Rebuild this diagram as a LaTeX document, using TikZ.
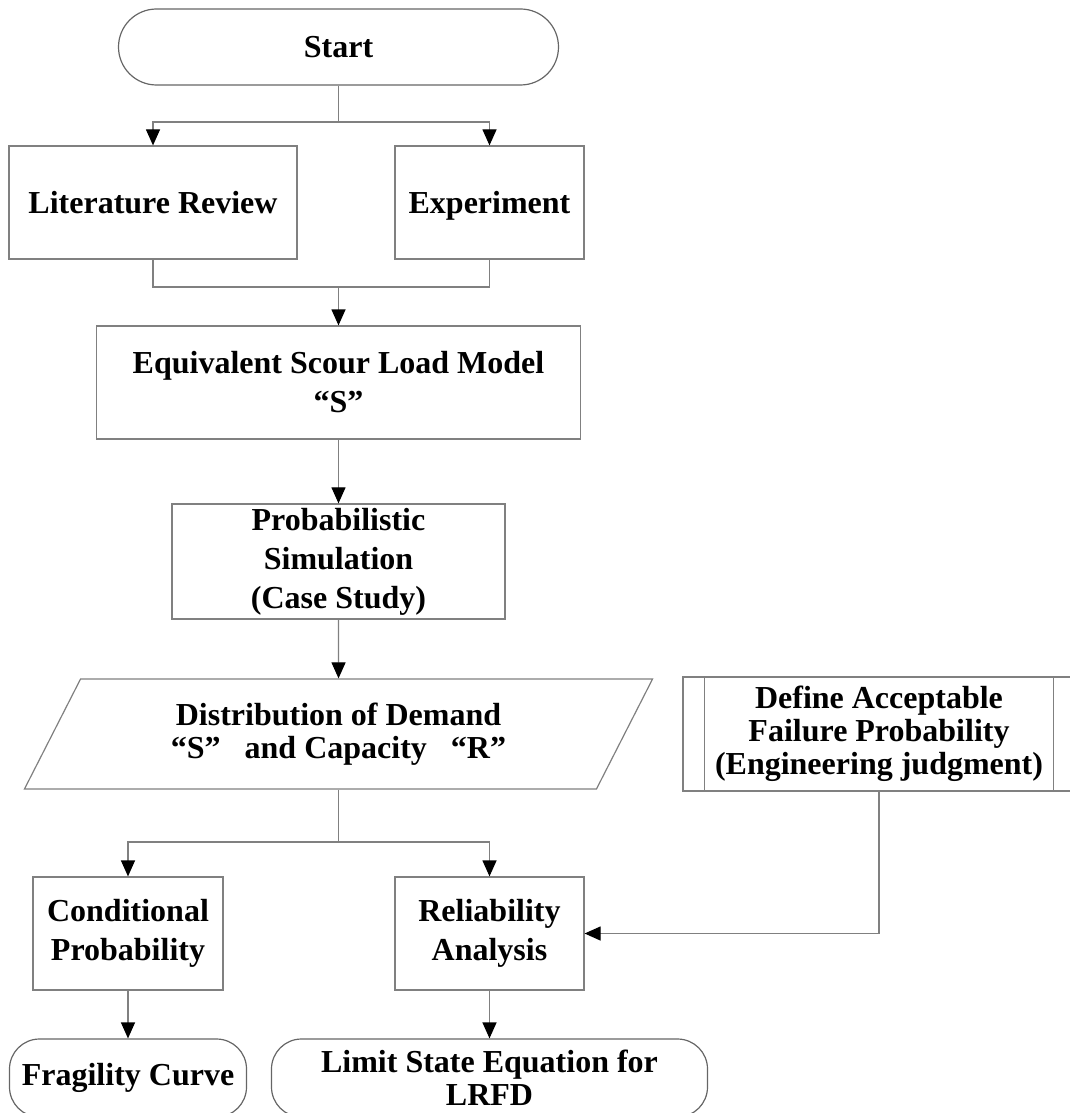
\documentclass[tikz,border=0pt]{standalone}
\usepackage{fontspec}
\setmainfont{Liberation Serif}
\usetikzlibrary{arrows.meta,positioning,shapes.geometric}
\definecolor{flowgray}{RGB}{128,128,128}

\begin{document}
\begin{tikzpicture}[x=0.5pt, y=-0.5pt,
  font=\fontsize{16}{16.5}\selectfont\bfseries,
  proc/.style={draw=flowgray, line width=0.6pt, align=center, inner sep=2pt,
               minimum height=56.5pt, font=\fontsize{16}{19.5}\selectfont\bfseries},
  term/.style={draw=flowgray!80!black, line width=0.6pt, rounded corners=19pt,
               align=center, inner sep=0pt},
  io/.style={draw=flowgray, line width=0.6pt, trapezium, trapezium stretches=true,
             trapezium left angle=63.43, trapezium right angle=116.57,
             align=center, minimum width=315pt, minimum height=55pt},
  link/.style={draw=flowgray, line width=0.6pt},
  arr/.style={link, -{Triangle[length=8pt, width=7pt, color=black]}}]
\useasboundingbox (0,0) rectangle (1070,1113);
% boxes
\node[term, minimum width=220pt, minimum height=38pt] (start) at (338.5,47) {Start};
\node[proc, minimum width=144pt] (lit) at (153,202.5) {Literature Review};
\node[proc, minimum width=94.5pt, text depth=0pt] (exp) at (489.5,202.5) {Experiment};
\node[proc, minimum width=242pt] (eqv) at (338.5,382.5) {Equivalent Scour Load Model\\“S”};
\node[proc, minimum width=166.5pt] (sim) at (338.5,561.5) {Probabilistic\\Simulation\\(Case Study)};
\node[io] (dist) at (338.5,734) {Distribution of Demand\\“S”\hspace{12pt}and Capacity\hspace{12pt}“R”};
\node[proc, minimum width=196pt, minimum height=57pt,
      font=\fontsize{16}{16.5}\selectfont\bfseries] (accept) at (879,734)
      {Define Acceptable\\Failure Probability\\(Engineering judgment)};
\draw[link] ([xshift=11pt]accept.north west) -- ([xshift=11pt]accept.south west);
\draw[link] ([xshift=-11pt]accept.north east) -- ([xshift=-11pt]accept.south east);
\node[proc, minimum width=95pt] (cond) at (128,933.5) {Conditional\\Probability};
\node[proc, minimum width=94.5pt] (rel) at (489.5,933.5) {Reliability\\Analysis};
\node[term, rounded corners=15pt, minimum width=118.5pt, minimum height=39pt] (frag) at (128,1078) {Fragility Curve};
\node[term, rounded corners=15pt, minimum width=218pt, minimum height=39pt] (lrfd) at (489.5,1078) {Limit State Equation for\\LRFD};
% connectors
\coordinate (split1) at (338.5,122);
\draw[link] (start) -- (split1);
\draw[arr] (split1) -| (lit);
\draw[arr] (split1) -| (exp);
\coordinate (join1) at (338.5,287);
\draw[link] (lit.south) |- (join1) -| (exp.south);
\draw[arr] (join1) -- (eqv);
\draw[arr] (eqv) -- (sim);
\draw[arr] (sim) -- (dist);
\coordinate (split2) at (338.5,842);
\draw[link] (dist) -- (split2);
\draw[arr] (split2) -| (cond);
\draw[arr] (split2) -| (rel);
\draw[arr] (accept.south) |- (rel.east);
\draw[arr] (cond) -- (frag);
\draw[arr] (rel) -- (lrfd);
\end{tikzpicture}
\end{document}
